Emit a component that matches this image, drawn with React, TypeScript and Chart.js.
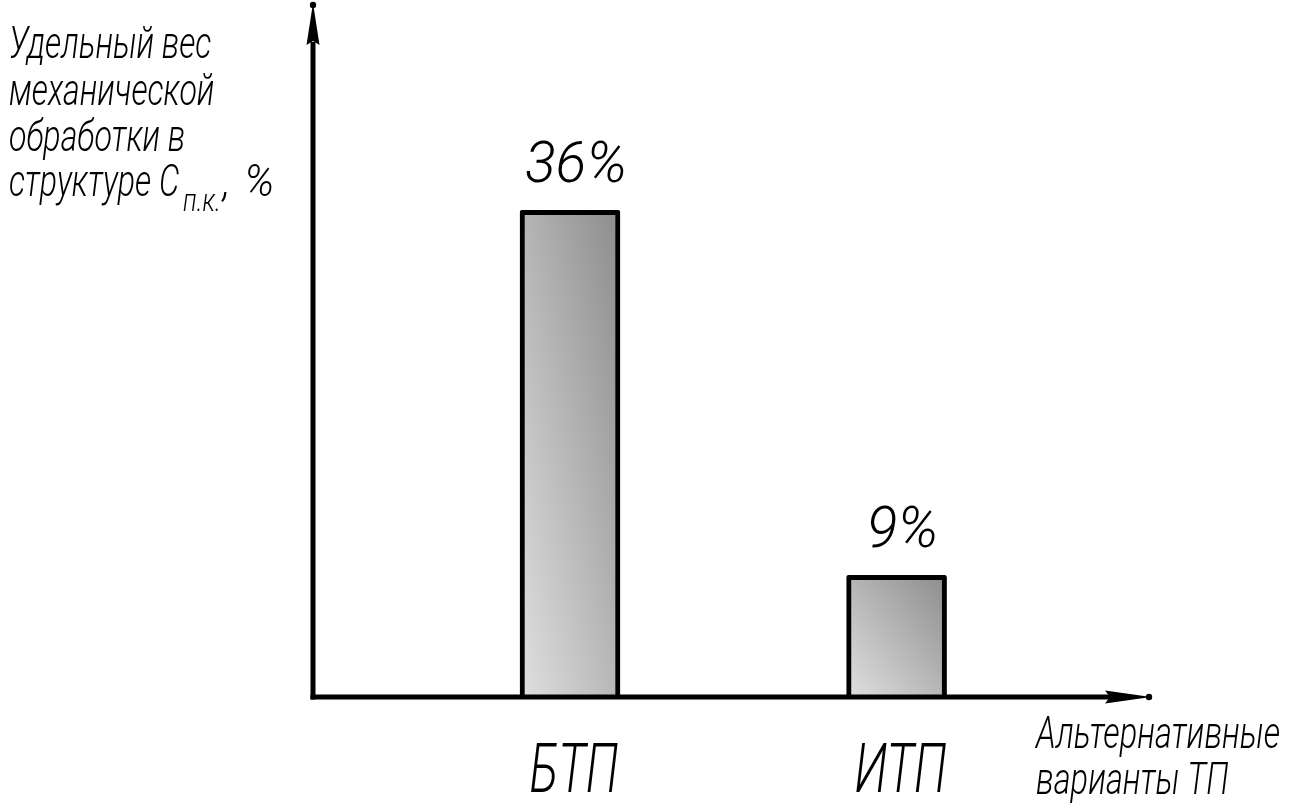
import React, { useEffect, useRef } from "react";
import { Chart, registerables } from "chart.js";

Chart.register(...registerables);

const categories: string[] = ["БТП", "ИТП"];
const values: number[] = [36, 9];
const valueLabels: string[] = values.map((v) => `${v}%`);
const yTitleLines: string[] = ["Удельный вес", "механической", "обработки в", "структуре С"];
const yTitleSub = "п.к.";
const yTitleComma = ",";
const yTitleUnit = "%";
const xTitleLines: string[] = ["Альтернативные", "варианты ТП"];

const Y_MIN = 0;
const Y_MAX = 51.4;
const X_MIN = 0.213;
const X_MAX = 2.776;
const BAR_W = 100;
const FONT_FAMILY = 'Roboto, "DejaVu Sans", sans-serif';

function drawText(
  ctx: CanvasRenderingContext2D,
  text: string,
  x: number,
  y: number,
  size: number,
  sx: number,
  align: "left" | "center" | "right" = "left"
): number {
  ctx.save();
  ctx.font = `italic 300 ${size}px ${FONT_FAMILY}`;
  ctx.textBaseline = "alphabetic";
  ctx.textAlign = "left";
  ctx.fillStyle = "#000";
  const w = ctx.measureText(text).width * sx;
  const x0 = align === "center" ? x - w / 2 : align === "right" ? x - w : x;
  ctx.translate(x0, y);
  ctx.scale(sx, 1);
  ctx.fillText(text, 0, 0);
  ctx.restore();
  return w;
}

const decorPlugin = {
  id: "decor",
  afterDatasetsDraw(chart: any) {
    const ctx: CanvasRenderingContext2D = chart.ctx;
    const { left, right, top, bottom } = chart.chartArea;
    const xs = chart.scales.x;
    const ys = chart.scales.y;
    ctx.save();
    ctx.fillStyle = "#000";
    ctx.strokeStyle = "#000";
    ctx.lineCap = "butt";
    ctx.lineWidth = 5;

    // Y axis line
    ctx.beginPath();
    ctx.moveTo(left, bottom + 2.5);
    ctx.lineTo(left, top + 40);
    ctx.stroke();
    // Y arrow head
    ctx.beginPath();
    ctx.moveTo(left, top + 1);
    ctx.lineTo(left + 6.5, top + 43);
    ctx.lineTo(left, top + 39);
    ctx.lineTo(left - 6.5, top + 43);
    ctx.closePath();
    ctx.fill();
    ctx.beginPath();
    ctx.arc(left, top + 3, 3.2, 0, Math.PI * 2);
    ctx.fill();

    // X axis line
    ctx.beginPath();
    ctx.moveTo(left - 2.5, bottom);
    ctx.lineTo(right - 40, bottom);
    ctx.stroke();
    // X arrow head
    ctx.beginPath();
    ctx.moveTo(right + 1, bottom);
    ctx.lineTo(right - 45, bottom - 6.5);
    ctx.lineTo(right - 40, bottom);
    ctx.lineTo(right - 45, bottom + 6.5);
    ctx.closePath();
    ctx.fill();
    ctx.beginPath();
    ctx.arc(right - 1, bottom, 3.2, 0, Math.PI * 2);
    ctx.fill();
    ctx.restore();

    // value labels and category labels
    const meta = chart.getDatasetMeta(0);
    meta.data.forEach((el: any, i: number) => {
      drawText(ctx, valueLabels[i], el.x + 6, el.y - 28, 57, 1.0, "center");
      drawText(ctx, categories[i], xs.getPixelForValue(i + 1) + 4, ys.getPixelForValue(Y_MIN) + 95, 68, 0.7, "center");
    });

    // Y title
    const tx = 9;
    const baselines = [58, 105, 151, 196];
    yTitleLines.forEach((line, i) => {
      const w = drawText(ctx, line, tx, baselines[i], 44, 0.73, "left");
      if (i === yTitleLines.length - 1) {
        const w2 = drawText(ctx, yTitleSub, tx + w + 4, baselines[i] + 15, 32, 0.78, "left");
        const w3 = drawText(ctx, yTitleComma, tx + w + w2 + 6, baselines[i], 44, 0.9, "left");
        drawText(ctx, yTitleUnit, tx + w + w2 + w3 + 20, baselines[i], 44, 0.95, "left");
      }
    });

    // X title
    const xBase = [748, 794];
    xTitleLines.forEach((line, i) => {
      drawText(ctx, line, 1036, xBase[i], 44, 0.74, "left");
    });
  },
};

export default function App() {
  const canvasRef = useRef<HTMLCanvasElement | null>(null);

  useEffect(() => {
    if (!canvasRef.current) return;
    const chart = new Chart(canvasRef.current, {
      type: "bar",
      data: {
        datasets: [
          {
            data: categories.map((c, i) => ({ x: i + 1, y: values[i] })) as any,
            barThickness: BAR_W,
            borderWidth: 5,
            borderColor: "#000",
            borderSkipped: "bottom",
            borderRadius: 2,
            backgroundColor: (c: any) => {
              const ch = c.chart;
              const xs = ch.scales?.x;
              const ys = ch.scales?.y;
              if (!xs || !ys || !ch.chartArea || !c.raw) return "#b0b0b0";
              const cx = xs.getPixelForValue(c.raw.x);
              const L = cx - BAR_W / 2;
              const R = cx + BAR_W / 2;
              const T = ys.getPixelForValue(c.raw.y);
              const B = ys.getPixelForValue(Y_MIN);
              const w = R - L;
              const h = Math.max(1, B - T);
              const t = 2 / (1 / (w * w) + 1 / (h * h));
              const g = ch.ctx.createLinearGradient(L, B, L + t / w, B - t / h);
              g.addColorStop(0, "#e0e0e0");
              g.addColorStop(1, "#8c8c8c");
              return g;
            },
          } as any,
        ],
      },
      options: {
        animation: false,
        responsive: true,
        maintainAspectRatio: false,
        layout: { padding: { left: 313, right: 153, top: 2, bottom: 113 } },
        plugins: {
          legend: { display: false },
          tooltip: { enabled: false },
        },
        scales: {
          x: { type: "linear", min: X_MIN, max: X_MAX, display: false, offset: false, grid: { display: false } },
          y: { type: "linear", min: Y_MIN, max: Y_MAX, display: false, grid: { display: false } },
        },
      },
      plugins: [decorPlugin],
    });
    return () => chart.destroy();
  }, []);

  return (
    <div style={{ position: "fixed", left: 0, top: 0, width: 1303, height: 810, background: "#fff" }}>
      <canvas ref={canvasRef} />
    </div>
  );
}
